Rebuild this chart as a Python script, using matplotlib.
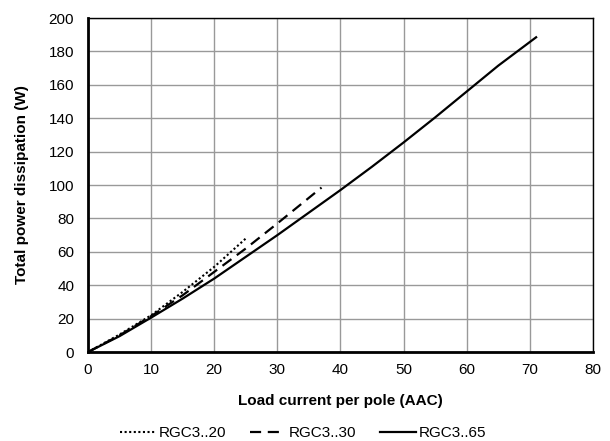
import matplotlib
matplotlib.use("Agg")
import matplotlib.pyplot as plt

plt.rcParams['font.family'] = ['Liberation Sans', 'DejaVu Sans']

# values
i_20 = [0, 5, 10, 15, 20, 25]
p_20 = [0, 10.5, 22, 36, 51, 68]

i_30 = [0, 5, 10, 15, 20, 25, 30, 37]
p_30 = [0, 10, 21.5, 34, 48, 62, 77, 98.5]

i_65 = [0, 5, 10, 15, 20, 25, 30, 35, 40, 45, 50, 55, 60, 65, 71]
p_65 = [0, 9.5, 20.6, 32, 44, 57, 70, 83.5, 97, 111, 125.5, 140.5, 156, 171.5, 188.5]

fig = plt.figure(figsize=(6.1, 4.41), dpi=100)
ax = fig.add_axes([0.1443, 0.2018, 0.8277, 0.7572])

ax.plot(i_20, p_20, color='black', linestyle=(0, (1, 1.2)), linewidth=1.5, label='RGC3..20')
ax.plot(i_30, p_30, color='black', linestyle=(0, (5, 3)), linewidth=1.6, label='RGC3..30')
ax.plot(i_65, p_65, color='black', linestyle='-', linewidth=1.6, label='RGC3..65')

ax.set_xlim(0, 80)
ax.set_ylim(0, 200)
ax.set_xticks(range(0, 81, 10))
ax.set_yticks(range(0, 201, 20))
ax.grid(True, color='#999999', linewidth=1)
ax.set_axisbelow(True)
ax.tick_params(axis='x', length=0, labelsize=11, pad=8)
ax.tick_params(axis='y', length=0, labelsize=11, pad=10)

for side in ['top', 'right']:
    ax.spines[side].set_linewidth(1)
for side in ['left', 'bottom']:
    ax.spines[side].set_linewidth(2)

ax.set_xlabel('Load current per pole (AAC)', fontsize=11, fontweight='bold', labelpad=12)
ax.set_ylabel('Total power dissipation (W)', fontsize=11, fontweight='bold', labelpad=14)

fig.legend(loc='center', bbox_to_anchor=(0.497, 0.018), ncol=3, frameon=False,
           fontsize=11, handlelength=2.3, handletextpad=0.2, columnspacing=1.6)

fig.savefig('out.png', dpi=100)
